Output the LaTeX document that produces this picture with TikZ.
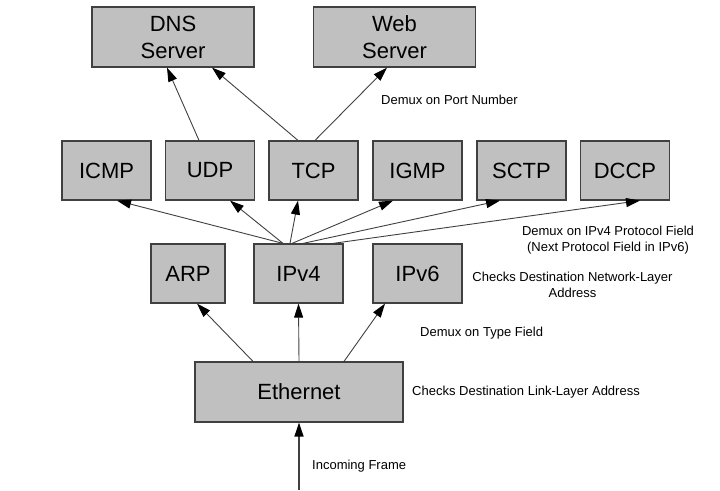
\documentclass[tikz,border=0pt]{standalone}
\usepackage{fontspec}
\setmainfont{Liberation Sans}
\usepackage{tikz}
\usetikzlibrary{arrows.meta,shapes}
\definecolor{boxgray}{HTML}{C0C0C0}
\definecolor{linegray}{HTML}{404040}
\tikzstyle{box}=[node font=\fontsize{22}{27}\selectfont, fill=boxgray, draw=linegray, line width=1.2pt, align=center, inner sep=0pt, minimum height=59pt]
\tikzstyle{edge} = [draw=linegray, line width=0.9pt, -{Triangle[length=14pt,width=9pt,color=black]}]
\tikzstyle{note} = [node font=\fontsize{13}{16}\selectfont, draw=none, align=center, inner sep=0pt]

\begin{document}
\begin{tikzpicture}[x=1pt, y=-1pt]
		\useasboundingbox (0,0) rectangle (720,490);
		% First we draw the boxes
		\foreach \pos/\label/\name in {
			{(173,37)/dns/DNS\\Server}, {(394.5,37)/web/Web\\Server}}
		\node[box, minimum width=162pt, minimum height=60pt] (\label) at \pos {\name};
		
		\foreach \pos/\label/\name in {
			{(106.5,170.5)/icmp/ICMP}, {(210,170.5)/udp/UDP}, {(313.5,170.5)/tcp/TCP},
			{(417.5,170.5)/igmp/IGMP}, {(521.5,170.5)/sctp/SCTP}, {(625,170.5)/dccp/DCCP}}
		\node[box, minimum width=89pt] (\label) at \pos {\name};
		
		\foreach \pos/\label/\name/\boxw in {
			{(188,273.5)/arp/ARP/74}, {(298.5,273.5)/ipv4/IPv4/89}, {(417.5,273.5)/ipv6/IPv6/89}}
		\node[box, minimum width=\boxw pt] (\label) at \pos {\name};
		
		\node[box, minimum width=208pt, minimum height=60pt] (eth) at (299,392) {Ethernet};
		\coordinate (frame) at (299,490);
		
		% Connect boxes with arrows
		\foreach \source/\sx/\dest/\dx in {
			udp/-11/dns/-6, tcp/-15.5/dns/39, tcp/1.5/web/-7.5,
			ipv4/-15.5/icmp/10.5, ipv4/-15.5/udp/20, ipv4/-8.5/tcp/-15.5,
			ipv4/-6.5/igmp/-24.5, ipv4/4.5/sctp/-21.5, ipv4/34.5/dccp/15,
			eth/-46/arp/9, eth/0/ipv4/0, eth/45/ipv6/-32.5}
		\path[edge] ([xshift=\sx pt]\source.north) -- ([xshift=\dx pt]\dest.south);
		
		\path[edge, line width=1.6pt] (frame) -- (eth.south);
		
		% Notes beside the layers
		\node[note, anchor=west] (portnote) at (381,100) {Demux on Port Number};
		\node[note] (protonote) at (608,240) {Demux on IPv4 Protocol Field\\(Next Protocol Field in IPv6)};
		\node[note] (netnote) at (572.5,285) {Checks Destination Network-Layer\\Address};
		\node[note, anchor=west] (typenote) at (420,333) {Demux on Type Field};
		\node[note, anchor=west] (linknote) at (412,392) {Checks Destination Link-Layer Address};
		\node[note, anchor=west] (framenote) at (312,466) {Incoming Frame};
\end{tikzpicture}
\end{document}
